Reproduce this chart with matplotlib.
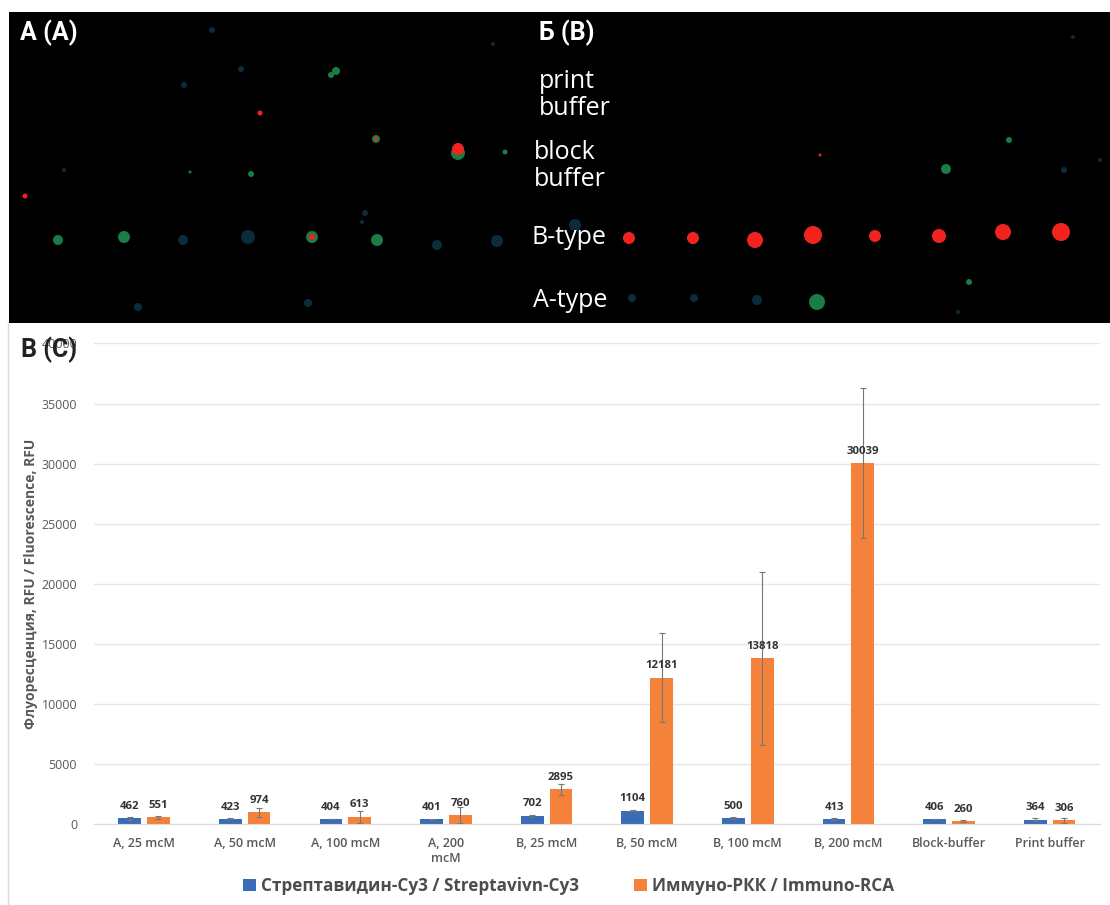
import matplotlib
matplotlib.use("Agg")
import matplotlib.pyplot as plt
import numpy as np

W, H = 1110, 905
plt.rcParams['font.family'] = ['Open Sans', 'DejaVu Sans']

categories = ["A, 25 mcM", "A, 50 mcM", "A, 100 mcM", "A, 200\nmcM", "B, 25 mcM",
              "B, 50 mcM", "B, 100 mcM", "B, 200 mcM", "Block-buffer", "Print buffer"]
strept = [462, 423, 404, 401, 702, 1104, 500, 413, 406, 364]
immuno = [551, 974, 613, 760, 2895, 12181, 13818, 30039, 260, 306]
strept_err = [100, 40, 25, 40, 80, 30, 70, 50, 30, 110]
immuno_err = [130, 350, 500, 680, 450, 3700, 7200, 6250, 90, 220]
yticks = [0, 5000, 10000, 15000, 20000, 25000, 30000, 35000, 40000]

# array spots, in scan pixels: x, y, radius
red_x = [629, 693, 755, 813, 875, 939, 1003, 1061, 458, 25, 260, 376, 312, 820]
red_y = [238, 238, 240, 235, 236, 236, 232, 232, 149, 196, 113, 139, 237, 155]
red_r = [6, 6, 8, 9, 6, 7, 8, 9, 6, 2.5, 2.5, 2, 3, 1.5]
green_x = [58, 124, 312, 377, 458, 336, 331, 251, 376, 505, 817, 946, 1009, 969, 190, 693]
green_y = [240, 237, 237, 240, 153, 71, 75, 174, 139, 152, 302, 169, 140, 282, 172, 240]
green_r = [5, 6, 6, 6, 7, 4, 3, 3, 4, 2.5, 8, 5, 3, 3, 1.5, 4]
dim_x = [183, 248, 437, 497, 308, 138, 212, 241, 184, 64, 632, 694, 757, 1064, 1100, 958, 493, 1073, 365, 575, 362]
dim_y = [240, 237, 245, 241, 303, 307, 30, 69, 85, 170, 298, 298, 300, 170, 160, 312, 44, 37, 213, 225, 222]
dim_r = [5, 7, 5, 6, 4, 4, 3, 3, 3, 2, 4, 4, 5, 3, 2, 2, 2, 2, 3, 6, 2]

fig = plt.figure(figsize=(W / 100, H / 100), dpi=100, facecolor="white")


def px_axes(x0, y0, x1, y1):
    return fig.add_axes([x0 / W, 1 - y1 / H, (x1 - x0) / W, (y1 - y0) / H])


# scan on top
scan = px_axes(9, 12, W, 323)
scan.set_xlim(9, W)
scan.set_ylim(323, 12)
scan.set_facecolor("black")
scan.set_xticks([])
scan.set_yticks([])
for s in scan.spines.values():
    s.set_visible(False)


def spots(x, y, r, color, z):
    scan.scatter(x, y, s=(1.44 * np.array(r)) ** 2, c=color, linewidths=0, zorder=z)


spots(dim_x, dim_y, dim_r, "#0b2c3c", 1)
spots(green_x, green_y, green_r, "#1a7d45", 2)
spots(red_x, red_y, red_r, "#f2231f", 3)

for txt, x, y in [("А (А)", 20, 33), ("Б (B)", 539, 33)]:
    scan.text(x, y, txt, color="white", fontsize=18, family="Roboto", weight="bold", va="center")
scan.text(539, 95, "print\nbuffer", color="white", fontsize=18, va="center", linespacing=1.08)
scan.text(534, 166, "block\nbuffer", color="white", fontsize=18, va="center", linespacing=1.08)
scan.text(532, 237, "B-type", color="white", fontsize=18, va="center")
scan.text(533, 300, "A-type", color="white", fontsize=18, va="center")

# bar chart
ax = px_axes(93.7, 343.5, 1100, 824)
x = np.arange(len(categories))
w = 0.226
off = 0.143
err_kw = dict(ecolor="#777777", elinewidth=0.8, capsize=2.5, capthick=0.8)
b1 = ax.bar(x - off, strept, w, yerr=strept_err, color="#3a6db5", error_kw=err_kw,
            label="Стрептавидин-Cy3 / Streptavivn-Cy3")
b2 = ax.bar(x + off, immuno, w, yerr=immuno_err, color="#f5823a", error_kw=err_kw,
            label="Иммуно-РКК / Immuno-RCA")
for bars, vals in [(b1, strept), (b2, immuno)]:
    for rect, v in zip(bars, vals):
        ax.annotate(str(v), (rect.get_x() + rect.get_width() / 2, v), xytext=(0, 8.5),
                    textcoords="offset points", ha="center", va="center",
                    fontsize=8.2, weight="bold", color="#333333")

ax.set_xlim(-0.5, len(categories) - 0.5)
ax.set_ylim(0, 40000)
ax.set_yticks(yticks)
ax.set_xticks(x)
ax.set_xticklabels(categories, fontsize=9, color="#595959", weight="semibold", linespacing=1.25)
ax.tick_params(axis="x", length=0, pad=9)
ax.tick_params(axis="y", length=0, pad=12, labelsize=9, labelcolor="#595959")
ax.grid(axis="y", color="#e6e6e6", linewidth=1)
ax.set_axisbelow(True)
for name in ["top", "right", "left"]:
    ax.spines[name].set_visible(False)
ax.spines["bottom"].set_color("#d9d9d9")
ax.set_ylabel("Флуоресценция, RFU / Fluorescence, RFU", fontsize=10, weight="bold", color="#595959")
ax.yaxis.set_label_coords((38 - 93.7) / (1100 - 93.7), 0.5)

fig.legend(handles=[b1, b2], loc="center", bbox_to_anchor=(568.5 / W, 1 - 886 / H), ncol=2,
           frameon=False, handlelength=0.75, handleheight=0.75, handletextpad=0.3,
           columnspacing=3.2, prop=dict(size=12.3, weight="bold"), labelcolor="#4d4d4d")

# left edge of the chart scan and the panel letter
fig.add_artist(plt.Line2D([7.5 / W, 7.5 / W], [0, 1 - 323 / H], color="#d9d9d9", linewidth=1))
fig.text(21 / W, 1 - 350 / H, "В (С)", fontsize=18, family="Roboto", weight="bold",
         color="#222222", va="center", zorder=10)

fig.savefig("out.png", dpi=100)
